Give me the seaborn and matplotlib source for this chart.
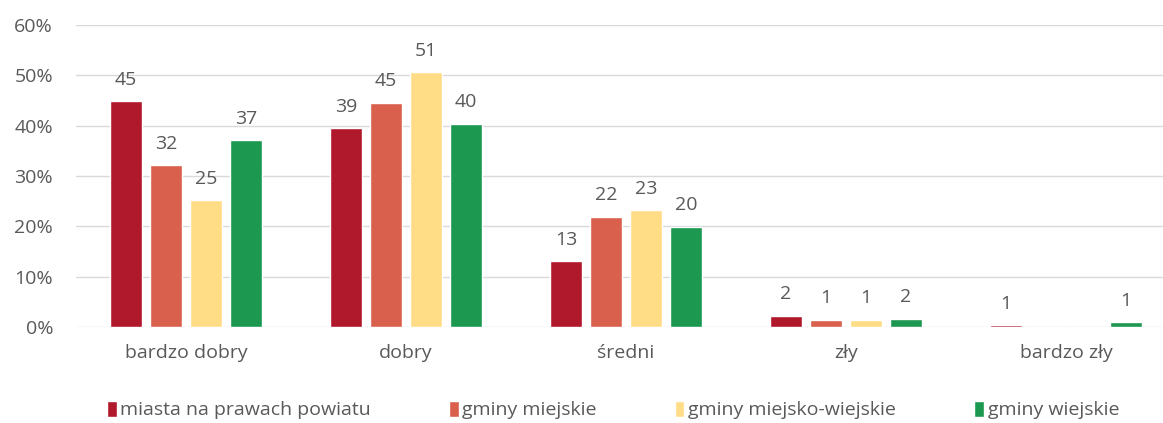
import pandas as pd
import matplotlib.pyplot as plt
import seaborn as sns
from matplotlib.ticker import PercentFormatter

# categories and series
categories = ['bardzo dobry', 'dobry', 'średni', 'zły', 'bardzo zły']
series = ['miasta na prawach powiatu', 'gminy miejskie',
          'gminy miejsko-wiejskie', 'gminy wiejskie']

# bar heights (%) as drawn
miasta = [44.9, 39.5, 13.1, 2.2, 0.35]
miejskie = [32.1, 44.6, 21.9, 1.4, 0.0]
miejsko_wiejskie = [25.2, 50.6, 23.2, 1.4, 0.0]
wiejskie = [37.1, 40.4, 19.9, 1.6, 0.9]

# printed labels
lab_miasta = ['45', '39', '13', '2', '1']
lab_miejskie = ['32', '45', '22', '1', '']
lab_mw = ['25', '51', '23', '1', '']
lab_wiejskie = ['37', '40', '20', '2', '1']

colors = ['#B0182B', '#D9604D', '#FFDD87', '#1C9850']
text_col = '#595959'
fs = 14


def build_df():
  rows = []
  for name, vals in zip(series, [miasta, miejskie, miejsko_wiejskie, wiejskie]):
    for cat, v in zip(categories, vals):
      rows.append({'kategoria': cat, 'seria': name, 'wartosc': v})
  return pd.DataFrame(rows)


def plot(df):
  sns.set_style('white')
  plt.rcParams['font.family'] = ['Open Sans', 'DejaVu Sans']

  fig = plt.figure(figsize=(11.63, 4.23), dpi=100)
  ax = fig.add_axes([76 / 1163, 1 - 327 / 423, 1 - 76 / 1163, 302 / 423])

  sns.barplot(ax=ax, data=df, x='kategoria', y='wartosc', hue='seria',
              palette=colors, width=0.727, gap=0.22, saturation=1,
              order=categories, hue_order=series)

  labels = [lab_miasta, lab_miejskie, lab_mw, lab_wiejskie]
  for cont, lab in zip(ax.containers, labels):
    ax.bar_label(cont, labels=lab, padding=9, fontsize=fs, color=text_col)

  ax.set_ylim(0, 60)
  ax.set_xlim(-0.5, (1163 - 76) / 220 - 0.5)
  ax.set_yticks(range(0, 61, 10))
  ax.yaxis.set_major_formatter(PercentFormatter(decimals=0))
  ax.grid(axis='y', color='#D9D9D9', lw=1)
  ax.set_axisbelow(True)
  for s in ax.spines.values():
    s.set_visible(False)
  ax.tick_params(axis='y', labelsize=fs, labelcolor=text_col, length=0, pad=16.5)
  ax.tick_params(axis='x', labelsize=fs, labelcolor=text_col, length=0, pad=12)
  ax.set_xlabel('')
  ax.set_ylabel('')

  ax.get_legend().remove()
  h, l = ax.get_legend_handles_labels()
  fig.legend(h, l, loc='center', bbox_to_anchor=(613 / 1163, 1 - 410 / 423),
             ncol=4, frameon=False, fontsize=fs, labelcolor=text_col,
             handlelength=0.5, handleheight=0.9, handletextpad=0.2,
             columnspacing=4.0)

  fig.savefig('out.png', dpi=100)


def main():
  df = build_df()
  plot(df)


if __name__ == '__main__':
  main()
